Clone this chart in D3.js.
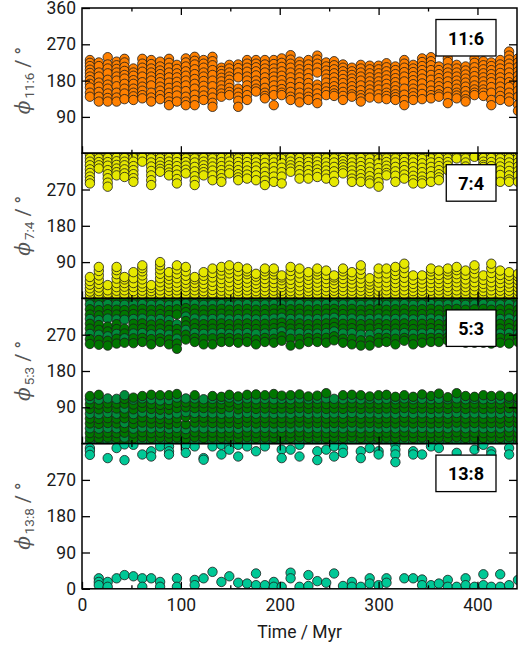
<!DOCTYPE html>
<html>
<head>
<meta charset="UTF-8">
<title>Resonant angles</title>
<script src="https://cdn.jsdelivr.net/npm/d3@7"></script>
<style>
body { margin:0; background:white; }
text { font-family: Roboto, "DejaVu Sans", sans-serif; }
</style>
</head>
<body>
<script>
// time of each output column (Myr)
var times = [8,17,26,35,43,52,61,70,79,88,96,105,114,123,132,141,149,158,167,176,
  185,194,202,211,220,229,238,247,255,264,273,282,291,300,308,317,326,335,344,353,
  361,370,379,388,397,406,414,423,432,441]

var xTicks = [0,100,200,300,400]
var xMinor = [50,150,250,350]
var names = ["11:6","7:4","5:3","13:8"]

// resonant angle values (deg), one string per column
var phi116 = [
"231 224 216 207 199 190 181 172 163 150 140","225 216 200 190 175 165 152 140 128",
"238 220 210 198 182 170 160 148 137 128","227 218 209 200 190 180 166 150 138 128",
"234 225 214 204 194 185 172 160 148 134","210 200 192 181 172 160 150 141 132",
"234 222 212 202 190 176 165 155 144 136","231 221 210 200 190 180 168 150 138 128",
"227 215 205 196 186 176 165 155 144 134","234 224 212 200 188 175 162 150 139 128 119",
"219 209 198 188 177 166 155 143 128","235 225 215 203 192 180 168 154 140 128 119",
"239 229 220 208 196 184 172 160 145 132 119","231 222 212 200 190 179 167 155 143 132",
"239 228 218 206 194 180 166 150 138 125 115","212 204 196 187 178 168 158 148 140",
"219 210 200 190 182 172 162 152 144","220 211 200 188 160 150 140 130 115",
"231 222 212 202 190 180 168 156 144 132","231 222 213 203 193 180 170 160 153",
"231 220 210 200 188 176 162 150 142 136","231 221 210 200 190 180 168 156 144 119",
"235 224 214 203 192 181 170 159 150 144","243 232 222 212 200 188 176 164 152 140 132",
"227 218 208 198 188 176 164 150 138 126","231 220 209 198 186 174 162 150 140 132",
"242 232 222 212 200 170 160 148 136 124","225 215 205 195 185 175 163 153 144",
"228 218 208 198 188 177 166 156 148 142","220 212 203 194 184 174 163 152 142 132",
"212 203 194 185 176 166 156 146 140","219 210 200 190 180 168 156 144 136 128",
"217 208 198 188 178 168 158 148 138","217 208 198 188 178 168 158 146 136",
"223 213 203 193 183 172 161 150 142 134","215 206 196 186 176 166 156 146 139 132",
"231 222 212 201 190 178 160 145 132 119","219 210 201 191 181 171 160 150 141 132",
"235 226 216 206 196 185 173 160 147 134","238 228 218 206 194 182 168 155 144 136",
"215 206 196 186 176 166 156 146 140","235 226 210 200 190 178 166 152 140 124",
"219 210 200 190 180 170 160 150 143 136","215 205 195 185 175 165 154 143 134 128",
"235 224 213 202 191 180 168 158 150 144","228 218 208 198 188 178 168 158 150 142",
"225 216 206 196 186 176 164 150 132 119","231 220 210 199 188 177 165 153 142 132",
"252 242 232 222 212 200 188 176 164 150 138 128","235 225 214 203 192 181 168 155 140 120 105"]

var phi74 = [
"357 348 339 330 320 311 302 293 285 2 9 17 25 34 43 53","356 347 338 330 322 3 10 18 27 36 46 57 68 78",
"357 348 338 329 318 308 298 287 277 4 12 20 33","357 349 340 331 322 313 305 2 10 19 28 38 49 60 70 78",
"356 348 339 330 320 310 301 3 11 20 29 38 47 53","357 348 339 328 318 308 298 289 2 9 18 28 38 50 65",
"358 349 339 3 11 19 28 37 47 57 67 75 82","357 347 337 327 316 305 293 281 2 10 18 26 33",
"356 347 338 329 321 314 3 11 20 30 40 50 61 72 82 90","357 348 339 330 321 312 305 2 10 19 28 37 47 56 65",
"357 348 338 328 318 307 296 285 3 11 20 29 39 50 61 72 82","356 347 338 329 319 310 2 10 19 28 37 46 56 67 78",
"357 347 337 326 315 303 292 281 3 11 20 29 38 47 53","357 348 339 330 321 313 305 2 10 18 27 36 46 56 65",
"356 347 337 327 317 305 293 3 12 21 31 41 52 63 74","357 348 338 328 318 308 298 289 2 10 19 28 38 48 59 69 78",
"357 348 339 329 319 310 3 11 20 30 40 51 62 72 82","356 347 338 328 318 308 300 293 2 9 18 27 36 46 56 67 78",
"357 348 338 328 317 307 297 3 11 20 29 39 49 60 67 74","357 347 337 327 317 305 293 2 10 18 27 36 45 54 61",
"357 347 336 325 314 303 292 281 3 11 19 28 38 48 58 67 74","356 347 337 326 315 302 289 2 10 19 28 38 48 59 67 74",
"357 346 335 324 313 302 285 3 11 19 28 36 45 52 57","357 348 339 330 322 314 2 10 18 27 36 46 57 68 78",
"357 348 338 328 318 308 297 3 11 20 30 40 51 62 74","356 347 338 328 318 308 297 2 10 18 27 36 46 56 65",
"357 348 339 330 320 311 301 3 11 20 29 39 49 59 67 74","357 347 337 327 317 307 297 2 10 19 28 38 48 58 69",
"357 347 337 326 315 304 289 3 11 19 27 36 45 52 57","356 348 340 332 325 317 310 2 10 19 28 38 48 58 67 74",
"357 347 337 327 317 307 297 289 3 11 19 28 37 47 56 65","357 348 338 328 318 308 298 289 2 10 19 28 38 49 60 71 82",
"357 347 336 325 314 303 292 285 3 10 18 26 34 42 50","357 346 335 323 311 299 288 277 2 10 19 29 39 50 62 74",
"356 347 338 329 320 311 305 3 11 20 30 40 51 62 74","357 347 337 326 315 304 289 2 10 19 28 38 48 58 68 78",
"357 348 338 328 318 307 297 3 11 20 30 40 51 63 75 86","357 347 337 326 315 304 294 285 2 10 18 27 36 46 57",
"356 346 335 324 313 302 292 285 3 11 19 28 37 47 57","357 347 337 326 315 303 289 2 10 19 28 38 48 58 67 74",
"357 348 338 328 318 308 300 293 3 11 20 29 38 48 58 69","356 347 338 329 318 2 10 19 28 38 48 59 67 74",
"358 351 347 3 11 20 30 40 50 60 70 78","357 347 337 327 316 305 289 2 10 19 28 37 47 58 69",
"358 351 3 11 20 30 40 51 62 73 82","357 348 339 331 326 2 10 18 27 36 46 57",
"357 348 338 328 318 308 300 293 3 11 20 30 40 51 63 75 86","356 347 337 327 317 306 289 2 10 19 28 38 48 58 69",
"357 347 337 327 316 305 295 289 3 11 19 28 37 47 56 65","357 347 337 327 316 305 289 2 10 18 27 36 45 54 61"]

var phi53 = [
"357 345 333 320 309 297 285 272 259 247 3 14 26 38 50 62 74 86 98 110 118",
"356 343 331 318 306 294 282 270 257 245 2 13 25 37 49 61 73 85 97 109 121",
"358 346 333 321 310 290 278 266 255 243 4 15 27 39 51 63 76 88 100 112",
"357 344 332 320 308 296 284 272 260 248 2 14 26 38 50 62 74 87 99 111",
"356 344 331 319 307 285 273 261 250 3 15 27 39 51 63 75 87 99 111 120",
"357 345 333 321 309 297 285 273 261 249 2 13 25 37 49 61 73 85 97 109 114",
"358 346 334 322 310 298 286 274 262 252 4 16 28 40 52 65 77 89 101 112 118",
"356 344 332 320 307 295 283 271 259 246 2 14 26 38 50 62 74 86 98 110 121",
"357 345 333 321 309 297 285 273 261 252 3 15 27 39 50 61 72 84 96 107 120",
"356 343 331 319 306 294 282 270 258 246 2 14 25 37 48 60 72 84 96 108 120",
"357 345 333 320 296 284 272 260 248 235 3 15 27 39 51 63 75 88 101 114 123",
"358 347 336 326 315 304 293 282 270 258 2 12 24 36 48 66 78 90 102 112",
"357 346 334 322 310 298 286 274 262 252 4 16 28 40 52 64 76 88 100 112 120",
"356 344 332 320 308 296 284 272 260 246 2 14 26 38 52 64 76 88 100 110",
"357 345 333 321 309 297 285 273 261 246 3 15 27 39 51 63 75 87 99 111 118",
"358 346 334 322 310 298 286 274 262 252 2 14 26 38 50 62 74 86 98 110 116",
"356 344 332 320 308 296 284 272 262 252 3 15 27 39 51 63 75 90 102 114 121",
"357 345 333 321 309 297 285 273 261 250 2 13 25 37 49 61 73 85 97 109 117",
"358 346 334 322 310 298 286 274 262 252 4 16 28 40 52 64 76 88 100 112 121",
"356 344 332 320 308 296 284 272 258 246 2 14 26 38 50 62 74 86 98 110 122",
"357 345 333 321 309 297 285 273 262 252 3 15 27 39 51 63 75 87 99 111 120",
"358 346 334 322 310 298 286 274 260 250 2 14 26 38 50 62 74 86 98 110 123",
"356 345 334 323 312 300 289 278 266 255 3 15 27 39 51 63 75 87 99 111 119",
"357 345 333 321 309 297 285 273 260 243 2 14 26 38 50 62 74 86 98 110 120",
"358 346 334 322 310 298 286 274 260 246 4 16 28 40 52 64 76 88 100 112 122",
"356 344 332 320 308 296 284 272 262 252 2 14 26 38 50 62 74 86 98 110 117",
"357 345 333 321 309 297 285 273 262 252 3 15 27 39 51 63 75 87 99 111 119",
"358 346 334 322 310 298 286 274 262 250 2 14 26 38 50 62 74 86 98 112 125",
"356 345 334 323 312 300 289 278 266 256 3 15 27 39 51 63 75 87 99 111",
"357 345 333 321 309 297 285 273 260 250 2 14 26 38 50 62 74 86 98 110 120",
"358 346 334 322 310 298 286 274 260 246 4 16 28 40 52 64 76 88 100 112 121",
"356 344 332 320 308 296 284 270 256 243 2 14 26 38 50 62 74 86 98 110 120",
"357 345 333 321 309 297 285 270 256 243 3 15 27 39 51 63 75 87 99 111 117",
"358 346 334 322 310 298 286 274 262 250 2 14 26 38 50 62 74 86 98 110 120",
"356 344 332 320 308 296 284 272 262 252 3 15 27 39 51 63 75 87 99 111 121",
"357 345 333 321 309 297 285 273 260 246 2 14 26 38 50 62 74 86 98 110 116",
"358 346 334 322 310 298 286 274 262 255 4 16 28 40 52 64 76 88 100 112 120",
"356 344 332 320 308 296 284 272 260 246 2 14 26 38 50 62 74 86 98 110 116",
"357 345 333 321 309 297 285 273 262 250 3 15 27 39 51 63 75 87 99 111 122",
"358 346 334 322 310 298 286 274 262 252 2 14 26 38 50 62 74 86 98 110 118",
"356 344 332 320 308 296 284 272 262 252 3 15 27 39 51 63 75 87 99 111 124",
"357 345 333 321 309 297 285 273 264 255 2 14 26 38 50 62 74 86 98 110 115",
"358 346 334 322 310 298 286 274 264 258 4 16 28 40 52 64 76 88 100 112 125",
"356 344 332 320 308 296 284 272 260 250 2 14 26 38 50 62 74 86 98 110 118",
"357 345 333 321 309 297 285 273 262 250 3 15 27 39 51 63 75 87 99 111 116",
"358 346 334 322 310 298 286 274 262 250 2 14 26 38 50 62 74 86 98 110 120",
"356 344 332 320 308 296 284 272 260 248 3 15 27 39 51 63 75 87 99 111 118",
"357 345 333 321 309 297 285 273 262 250 2 14 26 38 50 62 74 86 98 110 119",
"358 346 334 322 310 298 286 274 262 248 4 16 28 40 52 64 76 88 100 112 116",
"356 344 332 320 308 296 284 272 262 252 2 14 26 38 50 62 74 86 98 110 114"]

var phi138 = [
"349 342 332","26 17 9","324 17 5","349 26","358 319 34","357 31","333 26 5","341 328 26",
"353 17 5","353 341 333","26 5","357 337","353 22 9","324 320 26","353 42","357 333 17",
"353 345 31","357 328 15","353 13","341 38 9","353 9","17 5","345 324 5","345 40 26",
"357 328 5","34 7","341 319 19","345 15","353 328 38","349 337 7","17 5","341 324 5",
"349 26 13","341 333 9","26 15","357 345 333 314","26","341 333 26","333 23 9","353 9",
"349 13","22 5","337 5","26 9","345 5","357 36 9","341 333 5","36 5","349 333 9","22"]

var series = [phi116, phi74, phi53, phi138]
var colors = ["#ff8000", "#e6e800", "#007600", "#00c896"]
var colors2 = ["#ff8000", "#e6e800", "#008c3c", "#00c896"]

var left = 82, right = 517, top0 = 8, ph = 145.2

var svg = d3.select("body").append("svg")
  .attr("width", 522).attr("height", 648)
  .style("background", "white")

var x = d3.scaleLinear().domain([0, 440]).range([left, right])

series.forEach(function(cols, i) {
  var top = top0 + i * ph
  var y = d3.scaleLinear().domain([0, 360]).range([top + ph, top])
  var pts = []
  cols.forEach(function(s, j) {
    s.split(" ").forEach(function(v, k) { pts.push({t: times[j], v: +v, k: k}) })
  })

  svg.append("clipPath").attr("id", "clip" + i)
    .append("rect").attr("x", left).attr("y", top).attr("width", right - left).attr("height", ph)

  svg.append("g").attr("clip-path", "url(#clip" + i + ")")
    .selectAll("circle").data(pts).enter()
    .append("circle")
    .attr("cx", function(d) { return x(d.t) })
    .attr("cy", function(d) { return y(d.v) })
    .attr("r", 4.7)
    .attr("fill", function(d) { return d.k % 3 == 1 ? colors2[i] : colors[i] })
    .attr("stroke", "#1a1a1a")
    .attr("stroke-width", 0.8)

  // ticks point inward on all four sides
  var yt = i == 0 ? [90, 180, 270, 360] : (i == 3 ? [0, 90, 180, 270] : [90, 180, 270])
  svg.append("g").attr("transform", "translate(" + left + ",0)")
    .call(d3.axisLeft(y).tickValues(yt).tickSizeInner(-8).tickSizeOuter(0).tickPadding(6).tickFormat(d3.format("d")))
  svg.append("g").attr("transform", "translate(" + right + ",0)")
    .call(d3.axisRight(y).tickValues([90, 180, 270]).tickSizeInner(-8).tickSizeOuter(0).tickFormat(""))
  svg.append("g").attr("transform", "translate(0," + top + ")")
    .call(d3.axisTop(x).tickValues(xTicks.slice(1)).tickSizeInner(-7).tickSizeOuter(0).tickFormat(""))
  svg.append("g").attr("transform", "translate(0," + top + ")")
    .call(d3.axisTop(x).tickValues(xMinor).tickSizeInner(-3.5).tickSizeOuter(0).tickFormat(""))
  svg.append("g").attr("transform", "translate(0," + (top + ph) + ")")
    .call(d3.axisBottom(x).tickValues(xTicks).tickSizeInner(-7).tickSizeOuter(0).tickPadding(10)
      .tickFormat(i == 3 ? d3.format("d") : ""))
  svg.append("g").attr("transform", "translate(0," + (top + ph) + ")")
    .call(d3.axisBottom(x).tickValues(xMinor).tickSizeInner(-3.5).tickSizeOuter(0).tickFormat(""))

  svg.append("rect").attr("x", left).attr("y", top).attr("width", right - left).attr("height", ph)
    .attr("fill", "none").attr("stroke", "black").attr("stroke-width", 1.5)

  // y label
  var lab = svg.append("text")
    .attr("transform", "translate(30," + (top + ph / 2) + ") rotate(-90)")
    .attr("text-anchor", "middle").attr("fill", "#555").style("font-size", "20px")
  lab.append("tspan").text("ϕ").style("font-family", "'DejaVu Serif', serif").style("font-style", "italic").style("font-size", "20px")
  lab.append("tspan").text(names[i]).attr("dy", 4).attr("dx", 2).style("font-size", "13.5px")
  lab.append("tspan").text(" / °").attr("dy", -4)

  // name box
  var box = svg.append("rect")
  var bt = svg.append("text").text(names[i])
    .attr("text-anchor", "middle").attr("font-weight", "bold").style("font-size", "18px")
  var w = bt.node().getComputedTextLength() + 24
  box.attr("x", 496 - w).attr("y", top + 11.5).attr("width", w).attr("height", 36.5)
    .attr("fill", "white").attr("stroke", "black").attr("stroke-width", 1.3)
  bt.attr("x", 496 - w / 2).attr("y", top + 36.5)
})

svg.selectAll(".domain").remove()
svg.selectAll(".tick line").attr("stroke", "black").attr("stroke-width", 1.3)
svg.selectAll(".tick text").style("font-size", "17.5px").attr("fill", "#1a1a1a")
  .style("font-family", "Roboto, sans-serif")

svg.append("text").text("Time / Myr")
  .attr("x", (left + right) / 2).attr("y", 638)
  .attr("text-anchor", "middle").style("font-size", "17.5px").attr("fill", "#1a1a1a")
</script>
</body>
</html>
